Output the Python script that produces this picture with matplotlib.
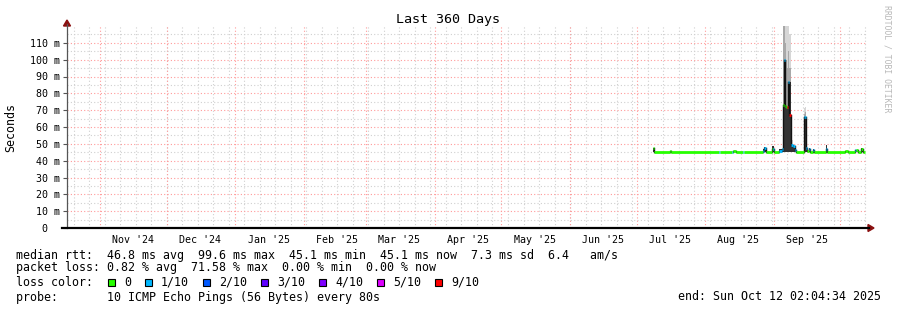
import matplotlib
matplotlib.use("Agg")
import matplotlib.pyplot as plt
import pandas as pd
from matplotlib.lines import Line2D
from matplotlib.patches import Rectangle, Polygon

# median rtt samples (ms), step starts; last entry is the end of the series
rtt_times = ["2025-07-08 06:00", "2025-07-08 18:00", "2025-07-16 06:00", "2025-07-16 18:00",
             "2025-08-07 00:00", "2025-08-07 12:00", "2025-08-13 00:00", "2025-08-13 12:00",
             "2025-08-15 00:00", "2025-08-18 00:00", "2025-08-18 12:00", "2025-08-27 00:00",
             "2025-08-27 12:00", "2025-08-28 12:00", "2025-08-31 00:00", "2025-08-31 12:00",
             "2025-09-01 00:00", "2025-09-03 12:00", "2025-09-04 12:00", "2025-09-05 00:00",
             "2025-09-05 12:00", "2025-09-06 00:00", "2025-09-06 12:00", "2025-09-07 00:00",
             "2025-09-07 12:00", "2025-09-08 00:00", "2025-09-08 12:00", "2025-09-09 12:00",
             "2025-09-10 12:00", "2025-09-11 00:00", "2025-09-14 12:00", "2025-09-15 00:00",
             "2025-09-15 12:00", "2025-09-16 00:00", "2025-09-17 00:00", "2025-09-17 12:00",
             "2025-09-18 12:00", "2025-09-19 00:00", "2025-09-24 12:00", "2025-09-25 00:00",
             "2025-10-03 00:00", "2025-10-04 12:00", "2025-10-07 12:00", "2025-10-08 00:00",
             "2025-10-09 00:00", "2025-10-10 12:00", "2025-10-11 00:00", "2025-10-12 02:00"]
rtt_median = [47.5, 45.1, 45.8, 45.1, 45.3, 45.1, 45.4, 45.8, 45.1, 45.4, 45.1, 46.0,
              47.5, 45.3, 46.8, 47.2, 45.1, 46.0, 47.0, 73.0, 99.6, 72.5, 72.0, 72.0,
              87.0, 67.0, 49.5, 48.5, 46.5, 45.3, 66.0, 66.0, 47.5, 46.0, 47.0, 45.1,
              46.5, 45.1, 47.0, 45.1, 45.6, 45.1, 46.3, 46.3, 45.1, 46.8, 45.3, 45.3]
rtt_loss = [0, 0, 0, 0, 1, 0, 1, 0, 0, 1, 0, 1, 1, 0, 0, 1, 0, 1, 1, 0, 1, 0, 0, 9,
            1, 9, 1, 1, 1, 0, 1, 1, 1, 0, 1, 0, 1, 0, 1, 0, 0, 0, 1, 0, 0, 0, 0, 0]
dark_top = [47.5, 45.1, 45.8, 45.1, 45.3, 45.1, 45.4, 45.8, 45.1, 45.4, 45.1, 47.0,
            48.4, 45.3, 48.5, 48.5, 45.1, 47.0, 47.0, 73.0, 99.6, 73.0, 72.0, 72.0,
            87.0, 87.0, 49.5, 48.5, 46.5, 45.3, 66.0, 66.0, 48.0, 46.0, 47.5, 45.1,
            47.0, 45.1, 49.4, 45.1, 45.6, 45.1, 46.3, 46.3, 45.1, 47.5, 45.3, 45.3]
mid_top = [47.5, 45.1, 45.8, 45.1, 45.3, 45.1, 45.4, 45.8, 45.1, 45.4, 45.1, 47.0,
           48.4, 45.3, 48.5, 48.5, 45.1, 47.0, 47.0, 125.0, 125.0, 110.0, 100.0, 95.0,
           105.0, 95.0, 50.0, 48.5, 46.5, 45.3, 68.0, 69.0, 48.0, 46.0, 47.5, 45.1,
           47.0, 45.1, 49.4, 45.1, 45.6, 45.1, 46.3, 46.3, 45.1, 47.5, 45.3, 45.3]
smoke_top = [47.5, 45.1, 45.8, 45.1, 45.3, 45.1, 45.4, 45.8, 45.1, 45.4, 45.1, 47.0,
             48.4, 45.3, 48.5, 48.5, 45.1, 47.0, 47.0, 125.0, 125.0, 125.0, 125.0, 125.0,
             125.0, 115.0, 52.0, 48.5, 46.5, 45.3, 71.0, 72.0, 48.0, 46.0, 47.5, 45.1,
             47.0, 45.1, 49.4, 45.1, 45.6, 45.1, 46.3, 46.3, 45.1, 47.5, 45.3, 45.3]
min_rtt = 45.1

loss_labels = ["0", "1/10", "2/10", "3/10", "4/10", "5/10", "9/10"]
loss_colors = ["#26ff00", "#00b8ff", "#0059ff", "#5e00ff", "#7e00ff", "#dd00ff", "#ff0000"]
loss_index = {0: 0, 1: 1, 2: 2, 3: 3, 4: 4, 5: 5, 9: 6}

legend_lines = [
    "median rtt:  46.8 ms avg  99.6 ms max  45.1 ms min  45.1 ms now  7.3 ms sd  6.4   am/s",
    "packet loss: 0.82 % avg  71.58 % max  0.00 % min  0.00 % now",
    "loss color:",
    "probe:       10 ICMP Echo Pings (56 Bytes) every 80s",
]
end_text = "end: Sun Oct 12 02:04:34 2025"

W, H = 897, 310
MONO = "DejaVu Sans Mono"
MINOR_C = "#d0d0d0"
MAJOR_C = "#ff9a9a"
ARROW_C = "#8b1010"


def fx(px):
    return px / W


def fy(py):
    return 1 - py / H


fig = plt.figure(figsize=(W / 100, H / 100), dpi=100)
ax = fig.add_axes([fx(67), fy(228), 800 / W, 202 / H])

x_start = pd.Timestamp("2024-10-17 00:00")
x_end = pd.Timestamp("2025-10-13 00:00")
ax.set_xlim(x_start, x_end)
ax.set_ylim(0, 120)

# grid: weekly / monthly, 5 ms / 10 ms
weeks = pd.date_range("2024-10-20", x_end, freq="7D")
months = pd.date_range("2024-11-01", x_end, freq="MS")
for w in weeks:
    ax.axvline(w, color=MINOR_C, lw=0.8, ls=(0, (1, 2)), zorder=0)
for m in months:
    ax.axvline(m, color=MAJOR_C, lw=0.8, ls=(0, (1, 2)), zorder=0)
for v in range(5, 120, 10):
    ax.axhline(v, color=MINOR_C, lw=0.8, ls=(0, (1, 2)), zorder=0)
for v in range(10, 120, 10):
    ax.axhline(v, color=MAJOR_C, lw=0.8, ls=(0, (1, 2)), zorder=0)

# smoke
t = pd.to_datetime(rtt_times)
ax.fill_between(t, min_rtt, smoke_top, step="post", color="#d6d6d6", lw=0, zorder=1)
ax.fill_between(t, min_rtt, mid_top, step="post", color="#a8a8a8", lw=0, zorder=1.2)
ax.fill_between(t, min_rtt, dark_top, step="post", color="#333333", lw=0, zorder=1.5)

# median line coloured by loss
for i in range(len(t) - 1):
    c = loss_colors[loss_index[rtt_loss[i]]]
    ax.plot([t[i], t[i + 1]], [rtt_median[i], rtt_median[i]], color=c, lw=2.0,
            solid_capstyle="butt", zorder=3)
    if i > 0 and rtt_median[i] != rtt_median[i - 1]:
        ax.plot([t[i], t[i]], [rtt_median[i - 1], rtt_median[i]], color="#111111",
                lw=1.0, zorder=2.5)

# ticks
ax.set_yticks(range(0, 120, 10))
ax.set_yticklabels(["0  "] + [f"{v} m" for v in range(10, 120, 10)])
label_months = pd.date_range("2024-11-01", "2025-09-01", freq="MS")
ax.set_xticks([m + pd.Timedelta(days=15) for m in label_months])
ax.set_xticklabels([d.strftime("%b '%y") for d in label_months])
ax.tick_params(axis="x", length=0, pad=5, labelsize=7.2)
ax.tick_params(axis="y", length=3, width=0.8, color="#555555", pad=2, labelsize=7.2)
for lab in ax.get_xticklabels() + ax.get_yticklabels():
    lab.set_family(MONO)
for s in ax.spines.values():
    s.set_visible(False)

# axes lines and arrows
fig.add_artist(Line2D([fx(67), fx(67)], [fy(228), fy(24)], color="#555555", lw=0.9))
fig.add_artist(Line2D([fx(62), fx(869)], [fy(228), fy(228)], color="black", lw=1.6))
fig.add_artist(Polygon([(fx(868), fy(224.5)), (fx(868), fy(231.5)), (fx(874), fy(228))],
                       closed=True, color=ARROW_C, transform=fig.transFigure))
fig.add_artist(Polygon([(fx(63.5), fy(26)), (fx(70.5), fy(26)), (fx(67), fy(20))],
                       closed=True, color=ARROW_C, transform=fig.transFigure))

# texts
fig.text(fx(448), fy(19), "Last 360 Days", family=MONO, fontsize=9.6, ha="center", va="center")
fig.text(fx(11), fy(127), "Seconds", family=MONO, fontsize=8.4, rotation=90, ha="center", va="center")
fig.text(fx(887), fy(5), "RRDTOOL / TOBI OETIKER", family=MONO, fontsize=5.9, rotation=270,
         ha="center", va="top", color="#b8b8b8")

rows = [255, 268, 282, 297]
for line, y in zip(legend_lines, rows):
    fig.text(fx(16), fy(y), line, family=MONO, fontsize=8.4, ha="left", va="center")
fig.text(fx(881), fy(297), end_text, family=MONO, fontsize=8.4, ha="right", va="center")

x = 108
for lab, col in zip(loss_labels, loss_colors):
    fig.add_artist(Rectangle((fx(x), fy(285.5)), 7 / W, 7 / H, transform=fig.transFigure,
                             facecolor=col, edgecolor="black", lw=0.8))
    fig.text(fx(x + 16), fy(282), lab, family=MONO, fontsize=8.4, ha="left", va="center")
    x += 16 + (len(lab) + 2) * 7

fig.savefig("out.png", dpi=100)
